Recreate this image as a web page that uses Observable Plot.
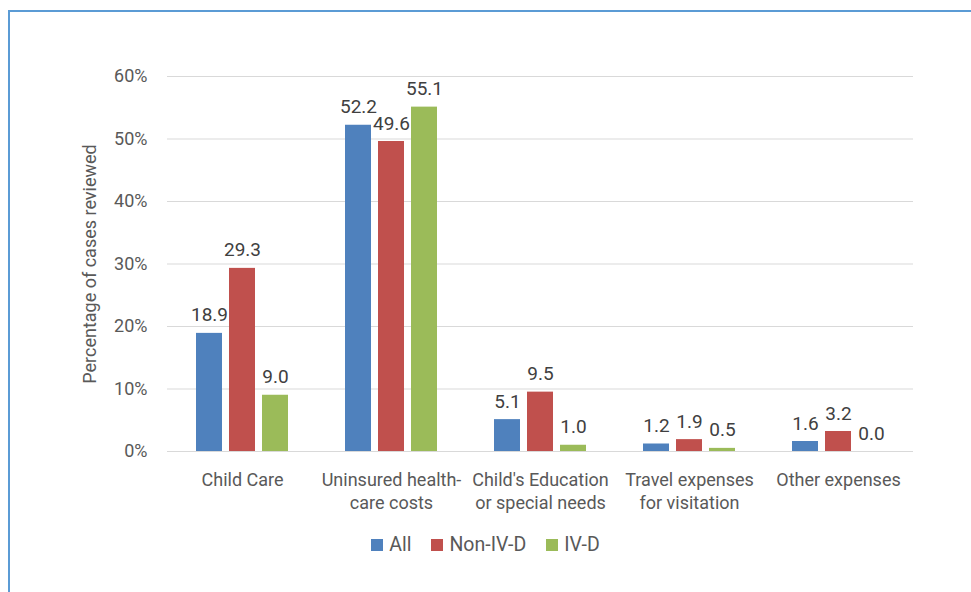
<!DOCTYPE html>
<html>
<head>
<meta charset="utf-8">
<script src="https://cdn.jsdelivr.net/npm/d3@7"></script>
<script src="https://cdn.jsdelivr.net/npm/@observablehq/plot@0.6"></script>
<style>
  html, body { margin: 0; padding: 0; background: #fff; overflow: hidden; }
  body { width: 971px; height: 592px; position: relative; font-family: Roboto, sans-serif; }
  #frame { position: absolute; left: 8px; top: 10px; width: 1000px; height: 640px; border: 2px solid #5b9bd5; box-sizing: border-box; pointer-events: none; }
  #chart { position: absolute; left: 0; top: 0; }
  #legend { position: absolute; left: 0; top: 533px; width: 971px; display: flex; justify-content: center; align-items: center; color: #595959; font-size: 19.5px; }
  .item { display: flex; align-items: center; margin: 0 10px; }
  .sw { width: 12px; height: 12px; margin-right: 6px; }
</style>
</head>
<body>
<div id="chart"></div>
<div id="legend"></div>
<div id="frame"></div>
<script>
const categories = ["Child Care", "Uninsured health-care costs", "Child's Education or special needs", "Travel expenses for visitation", "Other expenses"];
const tickLabels = ["Child Care", "Uninsured health-\ncare costs", "Child's Education\nor special needs", "Travel expenses\nfor visitation", "Other expenses"];
const series = ["All", "Non-IV-D", "IV-D"];
const allValues = [18.9, 52.2, 5.1, 1.2, 1.6];
const nonIVDValues = [29.3, 49.6, 9.5, 1.9, 3.2];
const ivdValues = [9.0, 55.1, 1.0, 0.5, 0.0];
const colors = ["#4F81BD", "#C0504D", "#9BBB59"];
const yTicks = [0, 10, 20, 30, 40, 50, 60];
const yTitle = "Percentage of cases reviewed";

const seriesValues = [allValues, nonIVDValues, ivdValues];
const data = categories.flatMap((c, i) => series.map((s, j) => ({category: c, series: s, value: seriesValues[j][i]})));

const step = 33;
const marks = [
  Plot.ruleY(yTicks, {stroke: "#d9d9d9", strokeWidth: 1}),
  Plot.axisY(yTicks, {tickSize: 0, tickPadding: 20, tickFormat: d => d + "%", fontSize: 18, fill: "#595959", label: null}),
  Plot.axisX({tickSize: 0, tickPadding: 19, tickFormat: c => tickLabels[categories.indexOf(c)], fontSize: 18, fill: "#595959", lineHeight: 1.25, label: null}),
  Plot.text([yTitle], {frameAnchor: "left", text: d => d, rotate: -90, textAnchor: "middle", dx: -77, fontSize: 18, fill: "#595959"})
];
series.forEach((s, j) => {
  const sub = data.filter(d => d.series === s);
  marks.push(Plot.barY(sub, {x: "category", y: "value", fill: "series", dx: (j - 1) * step}));
  marks.push(Plot.text(sub, {x: "category", y: "value", text: d => d.value.toFixed(1), dx: (j - 1) * step, dy: -18, fontSize: 19, fill: "#404040"}));
});

const chart = Plot.plot({
  width: 971,
  height: 520,
  marginLeft: 167,
  marginRight: 58,
  marginTop: 76,
  marginBottom: 69,
  style: {fontFamily: "Roboto, sans-serif", fontSize: "18px", color: "#595959", background: "transparent"},
  x: {type: "band", domain: categories, paddingInner: 0.8257, paddingOuter: 0.41285, axis: null},
  y: {domain: [0, 60], axis: null},
  color: {domain: series, range: colors},
  marks
});
document.getElementById("chart").appendChild(chart);

const legend = document.getElementById("legend");
series.forEach((s, j) => {
  const item = document.createElement("div");
  item.className = "item";
  const sw = document.createElement("div");
  sw.className = "sw";
  sw.style.background = colors[j];
  const t = document.createElement("span");
  t.textContent = s;
  item.appendChild(sw);
  item.appendChild(t);
  legend.appendChild(item);
});
</script>
</body>
</html>
